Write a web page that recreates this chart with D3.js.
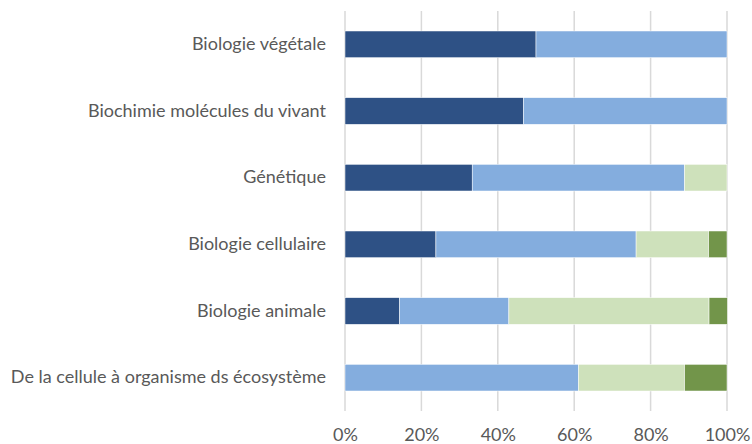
<!DOCTYPE html>
<html>
<head>
<meta charset="utf-8">
<script src="https://cdn.jsdelivr.net/npm/d3@7"></script>
<style>
  html, body { margin: 0; padding: 0; background: #fff; }
  svg { display: block; }
  text { font-family: Lato, "Open Sans", sans-serif; fill: #595959; }
</style>
</head>
<body>
<svg id="chart" width="752" height="444"></svg>
<script>
// Share of each level per subject (percent)
const categories = [
  "Biologie végétale",
  "Biochimie molécules du vivant",
  "Génétique",
  "Biologie cellulaire",
  "Biologie animale",
  "De la cellule à organisme ds écosystème"
];
const seriesNames = ["Niveau 1", "Niveau 2", "Niveau 3", "Niveau 4"];
const niveau1 = [50.0, 46.7, 33.3, 23.8, 14.3, 0.0];
const niveau2 = [50.0, 53.3, 55.6, 52.4, 28.6, 61.1];
const niveau3 = [0.0, 0.0, 11.1, 19.0, 52.4, 27.8];
const niveau4 = [0.0, 0.0, 0.0, 4.8, 4.8, 11.1];
const tickValues = [0, 20, 40, 60, 80, 100];
const colors = ["#2E5185", "#84ADDE", "#CEE1BB", "#72954A"];

const rows = categories.map((c, i) => ({
  cat: c,
  "Niveau 1": niveau1[i],
  "Niveau 2": niveau2[i],
  "Niveau 3": niveau3[i],
  "Niveau 4": niveau4[i]
}));

const svg = d3.select("#chart");
const x0 = 345, x1 = 727, yTop = 11, yBot = 411;

const x = d3.scaleLinear().domain([0, 100]).range([x0, x1]);
const y = d3.scaleBand().domain(categories).range([yTop, yBot]).paddingInner(0.6).paddingOuter(0.3);

// vertical gridlines
svg.append("g")
  .selectAll("line")
  .data(tickValues)
  .join("line")
  .attr("x1", d => x(d)).attr("x2", d => x(d))
  .attr("y1", yTop).attr("y2", yBot)
  .attr("stroke", "#D9D9D9")
  .attr("stroke-width", 1.5);

// stacked bars
const stack = d3.stack().keys(seriesNames);
const layers = stack(rows);

svg.append("g")
  .selectAll("g")
  .data(layers)
  .join("g")
  .attr("fill", (d, i) => colors[i])
  .selectAll("rect")
  .data(d => d.filter(s => s[1] - s[0] > 0))
  .join("rect")
  .attr("x", d => x(d[0]))
  .attr("width", d => x(d[1]) - x(d[0]))
  .attr("y", d => y(d.data.cat))
  .attr("height", y.bandwidth())
  .attr("stroke", "#fff")
  .attr("stroke-width", 0.5);

// category labels
const yAxis = d3.axisLeft(y).tickSize(0).tickPadding(0);
const gy = svg.append("g")
  .attr("transform", `translate(${x0 - 19},0)`)
  .call(yAxis);
gy.select(".domain").remove();
gy.selectAll("text")
  .attr("font-size", 18)
  .style("font-family", "Lato, 'Open Sans', sans-serif")
  .attr("fill", "#595959");

// percentage axis
const xAxis = d3.axisBottom(x).tickValues(tickValues).tickSize(0).tickPadding(0).tickFormat(d => d + "%");
const gx = svg.append("g")
  .attr("transform", `translate(0,${yBot + 17})`)
  .call(xAxis);
gx.select(".domain").remove();
gx.selectAll("text")
  .attr("font-size", 18)
  .style("font-family", "Lato, 'Open Sans', sans-serif")
  .attr("fill", "#595959");
</script>
</body>
</html>
